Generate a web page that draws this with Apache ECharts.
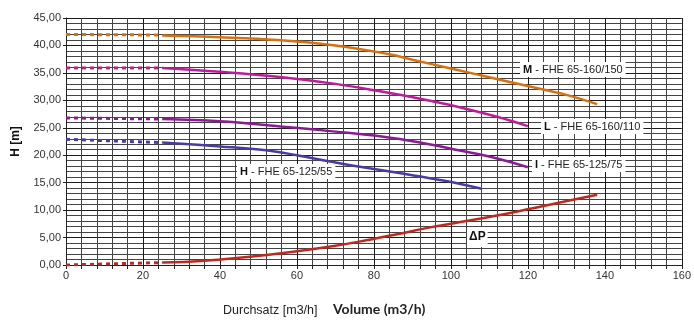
<!DOCTYPE html>
<html>
<head>
<meta charset="utf-8">
<script src="https://cdn.jsdelivr.net/npm/echarts@6/dist/echarts.min.js"></script>
<style>
  html, body { margin: 0; padding: 0; background: #fff; }
  #chart { width: 694px; height: 323px; }
</style>
</head>
<body>
<div id="chart"></div>
<script>
// Kennlinien [Volumen m3/h, H m]
var curveM = [[25, 41.8], [40, 41.5], [55, 41.0], [70, 40.0], [84, 38.4], [90, 37.4], [100, 35.8], [110, 34.2], [120, 32.6], [130, 31.0], [138, 29.3]];
var curveL = [[25, 35.9], [40, 35.2], [55, 34.3], [70, 33.0], [82, 31.6], [92, 30.3], [102, 28.8], [112, 27.0], [120, 25.3]];
var curveI = [[25, 26.6], [40, 26.2], [55, 25.3], [70, 24.3], [82, 23.4], [92, 22.3], [102, 20.9], [112, 19.4], [120, 17.8]];
var curveH = [[25, 22.3], [40, 21.6], [52, 20.9], [60, 20.0], [69, 18.8], [78, 17.7], [87, 16.7], [98, 15.4], [108, 13.9]];
var curveDP = [[25, 0.45], [35, 0.75], [45, 1.3], [60, 2.5], [70, 3.5], [78, 4.5], [86, 5.6], [95, 6.9], [104, 8.0], [112, 9.0], [125, 10.9], [138, 12.8]];

// gestrichelter Anlauf 0..25 m3/h
var dashM = [[0, 42.0], [25, 41.9]];
var dashL = [[0, 35.9], [25, 35.9]];
var dashI = [[0, 26.8], [25, 26.6]];
var dashH = [[0, 22.9], [25, 22.3]];
var dashDP = [[0, 0.0], [25, 0.45]];

var colors = {
    M: '#D9700E',
    L: '#BE1A9C',
    I: '#8C1A95',
    H: '#4B3AA6',
    DP: '#C0281E'
};

function solid(data, color) {
    return {
        type: 'line',
        data: data,
        smooth: 0.4,
        symbol: 'none',
        lineStyle: { color: color, width: 2.5 },
        silent: true,
        animation: false
    };
}

function dashed(data, color) {
    return {
        type: 'line',
        data: data,
        symbol: 'none',
        lineStyle: { color: color, width: 3, type: [4, 4] },
        silent: true,
        animation: false
    };
}

// Beschriftungen der Kurven (weiss hinterlegt)
function tag(x, y, key, rest) {
    return {
        type: 'text',
        left: x,
        top: y,
        z: 100,
        style: {
            text: '{b|' + key + '}' + rest,
            fontFamily: 'Liberation Sans, Arial',
            fontSize: 11,
            fill: '#222',
            backgroundColor: '#fff',
            padding: [2, 3, 2, 3],
            rich: {
                b: { fontWeight: 'bold', fontSize: 11, fontFamily: 'Liberation Sans, Arial', fill: '#111' }
            }
        }
    };
}

var chart = echarts.init(document.getElementById('chart'), null, { renderer: 'canvas' });

var axisFont = { fontFamily: 'Liberation Sans, Arial', fontSize: 11, color: '#333' };

chart.setOption({
    animation: false,
    grid: { left: 66, right: 10, top: 18, bottom: 58 },
    xAxis: {
        type: 'value',
        min: 0,
        max: 160,
        interval: 20,
        axisLine: { show: true, lineStyle: { color: '#222', width: 1 } },
        axisTick: { show: true, length: 4, lineStyle: { color: '#222' } },
        minorTick: { show: true, splitNumber: 5, length: 4, lineStyle: { color: '#222' } },
        axisLabel: Object.assign({ margin: 5 }, axisFont),
        splitLine: { show: true, lineStyle: { color: '#1a1a1a', width: 1 } },
        minorSplitLine: { show: true, lineStyle: { color: '#444', width: 1 } }
    },
    yAxis: {
        type: 'value',
        min: 0,
        max: 45,
        interval: 5,
        name: 'H [m]',
        nameLocation: 'middle',
        nameGap: 44,
        nameTextStyle: { fontFamily: 'Liberation Sans, Arial', fontSize: 12, fontWeight: 'bold', color: '#111' },
        axisLine: { show: true, lineStyle: { color: '#222', width: 1 } },
        axisTick: { show: true, length: 3, lineStyle: { color: '#222' } },
        axisLabel: Object.assign({
            margin: 5,
            formatter: function (v) { return v.toFixed(2).replace('.', ','); }
        }, axisFont),
        splitLine: { show: true, lineStyle: { color: '#1a1a1a', width: 1 } },
        minorTick: { show: false, splitNumber: 5 },
        minorSplitLine: { show: true, lineStyle: { color: '#444', width: 1 } }
    },
    series: [
        dashed(dashM, colors.M), solid(curveM, colors.M),
        dashed(dashL, colors.L), solid(curveL, colors.L),
        dashed(dashI, colors.I), solid(curveI, colors.I),
        dashed(dashH, colors.H), solid(curveH, colors.H),
        dashed(dashDP, colors.DP), solid(curveDP, colors.DP)
    ],
    graphic: [
        tag(520, 62, 'M', ' - FHE 65-160/150'),
        tag(541, 119, 'L', ' - FHE 65-160/110'),
        tag(532, 157, 'I', ' - FHE 65-125/75'),
        tag(237, 164, 'H', ' - FHE 65-125/55'),
        {
            type: 'text',
            left: 467,
            top: 227,
            z: 100,
            style: {
                text: 'ΔP',
                fontFamily: 'Liberation Sans, Arial',
                fontSize: 12,
                fontWeight: 'bold',
                fill: '#111',
                backgroundColor: '#fff',
                padding: [4, 2, 4, 2]
            }
        },
        {
            type: 'text',
            left: 223,
            top: 304,
            style: {
                text: 'Durchsatz [m3/h]',
                fontFamily: 'Liberation Sans, Arial',
                fontSize: 12.5,
                fill: '#222'
            }
        },
        {
            type: 'text',
            left: 333,
            top: 302,
            style: {
                text: 'Volume (m3/h)',
                fontFamily: 'Lato',
                fontSize: 14,
                fontWeight: 'bold',
                fill: '#222'
            }
        }
    ]
});
</script>
</body>
</html>
